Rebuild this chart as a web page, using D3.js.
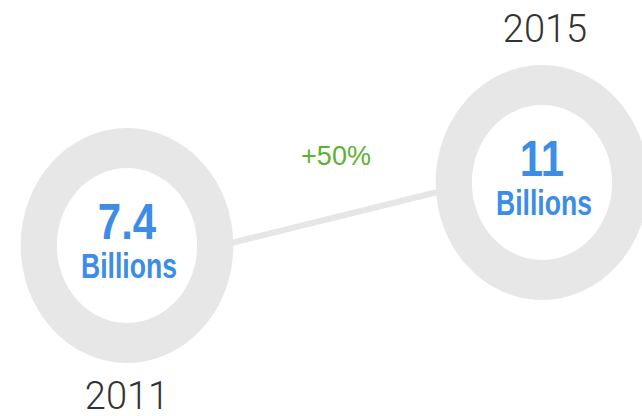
<!DOCTYPE html>
<html>
<head>
<meta charset="utf-8">
<script src="https://cdn.jsdelivr.net/npm/d3@7"></script>
<style>
  html, body { margin: 0; padding: 0; background: #ffffff; }
  svg { display: block; }
</style>
</head>
<body>
<svg id="chart" width="642" height="416"></svg>
<script>
// Population figures shown as two ring "bubbles" linked by a connector
const years = ["2011", "2015"];
const values = [7.4, 11];
const valueLabels = ["7.4", "11"];
const unitLabels = ["Billions", "Billions"];
const growthLabel = "+50%";

const W = 642, H = 416;
const svg = d3.select("#chart");

// horizontal placement by year, vertical placement by value
const x = d3.scalePoint().domain(years).range([127, 542]);
const y = d3.scaleLinear().domain([7.4, 11]).range([245.5, 182.5]);

// rings are drawn slightly narrower than tall
const squeeze = 0.905;
const outerR = 117.5, innerR = 77.5;

const ringColor = "#e7e7e7";
const blue = "#3b8de6";
const green = "#5cb230";

const nodes = years.map((yr, i) => ({
  year: yr, value: values[i], label: valueLabels[i], unit: unitLabels[i],
  cx: x(yr), cy: y(values[i]), i
}));

// connector between the two rings
const a = nodes[0], b = nodes[1];
svg.append("line")
  .attr("x1", a.cx + outerR * squeeze - 4)
  .attr("y1", a.cy - 2)
  .attr("x2", b.cx - outerR * squeeze + 4)
  .attr("y2", b.cy + 9)
  .attr("stroke", "#e6e6e6")
  .attr("stroke-width", 6)
  .attr("stroke-linecap", "round");

const g = svg.selectAll("g.node")
  .data(nodes)
  .join("g")
  .attr("class", "node");

g.append("ellipse")
  .attr("cx", d => d.cx).attr("cy", d => d.cy)
  .attr("rx", outerR * squeeze).attr("ry", outerR)
  .attr("fill", ringColor);

g.append("ellipse")
  .attr("cx", d => d.cx).attr("cy", d => d.cy)
  .attr("rx", innerR * squeeze).attr("ry", innerR)
  .attr("fill", "#ffffff");

// value figure
g.append("text")
  .attr("transform", d => `translate(${d.cx},${d.cy - 7}) scale(0.84,1)`)
  .attr("text-anchor", "middle")
  .attr("font-family", "'Liberation Sans', Arial, sans-serif")
  .attr("font-weight", "bold")
  .attr("font-size", 50)
  .attr("fill", blue)
  .text(d => d.label);

// unit
g.append("text")
  .attr("transform", d => `translate(${d.cx + 2},${d.cy + 32}) scale(0.76,1)`)
  .attr("text-anchor", "middle")
  .attr("font-family", "'Liberation Sans', Arial, sans-serif")
  .attr("font-weight", "bold")
  .attr("font-size", 35)
  .attr("fill", blue)
  .text(d => d.unit);

// year: first below its ring, second above
g.append("text")
  .attr("x", d => d.i === 0 ? d.cx : d.cx + 3)
  .attr("y", d => d.i === 0 ? d.cy + 163 : d.cy - 140.5)
  .attr("text-anchor", "middle")
  .attr("font-family", "Roboto, 'Liberation Sans', sans-serif")
  .attr("font-weight", 300)
  .attr("font-size", 38)
  .attr("fill", "#333333")
  .text(d => d.year);

// growth label above the connector
svg.append("text")
  .attr("x", (a.cx + b.cx) / 2 + 1.5)
  .attr("y", 165)
  .attr("text-anchor", "middle")
  .attr("font-family", "'Liberation Sans', Arial, sans-serif")
  .attr("font-size", 27)
  .attr("fill", green)
  .text(growthLabel);
</script>
</body>
</html>
